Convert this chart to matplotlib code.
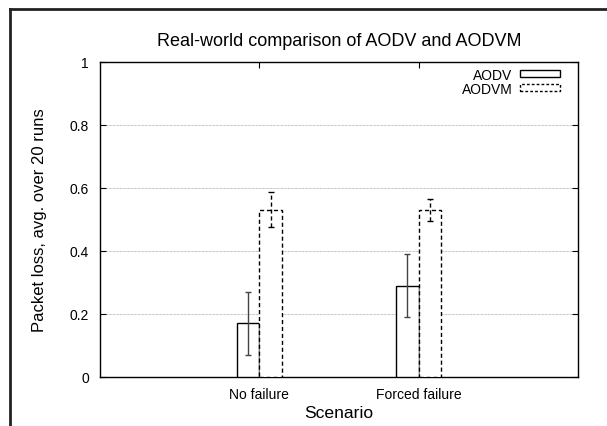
import matplotlib
matplotlib.use("Agg")
import matplotlib.pyplot as plt
from matplotlib.patches import Rectangle
from matplotlib.lines import Line2D
import numpy as np

plt.rcParams['font.family'] = ['Liberation Sans', 'DejaVu Sans']

scenarios = ['No failure', 'Forced failure']
aodv = [0.17, 0.29]
aodv_err = [0.10, 0.10]
aodvm = [0.53, 0.53]
aodvm_err = [0.055, 0.034]

fig = plt.figure(figsize=(6.07, 4.27), dpi=100)
ax = fig.add_axes([100 / 607, 49 / 427, 478 / 607, 315.5 / 427])

x = np.arange(len(scenarios))
w = 0.142

ax.bar(x - w / 2, aodv, w, facecolor='white', edgecolor='black', linewidth=1.0, zorder=3)
ax.bar(x + w / 2, aodvm, w, facecolor='white', edgecolor='black', linewidth=1.0,
       linestyle=(0, (3, 2)), zorder=3)

e1 = ax.errorbar(x - w / 2, aodv, yerr=aodv_err, fmt='none', ecolor='#444444',
                 elinewidth=1.0, capsize=2.5, capthick=1.0, zorder=4)
e2 = ax.errorbar(x + w / 2, aodvm, yerr=aodvm_err, fmt='none', ecolor='black',
                 elinewidth=1.0, capsize=2.5, capthick=1.0, zorder=4)
e2[2][0].set_linestyle((0, (3, 2)))

ax.set_xlim(-1, 2)
ax.set_ylim(0, 1)
ax.set_xticks(x)
ax.set_xticklabels(scenarios, fontsize=10)
ax.set_yticks([0, 0.2, 0.4, 0.6, 0.8, 1])
ax.set_yticklabels(['0', '0.2', '0.4', '0.6', '0.8', '1'], fontsize=10)
ax.tick_params(direction='in', length=4, width=0.8, top=True, right=True, pad=8)
ax.tick_params(axis='x', bottom=False, pad=7)
ax.grid(axis='y', linestyle=(0, (1, 1)), color='#888888', linewidth=0.5, zorder=0)
for s in ax.spines.values():
    s.set_linewidth(1.0)

ax.set_title('Real-world comparison of AODV and AODVM', fontsize=13, pad=12)
ax.set_xlabel('Scenario', fontsize=12.6, labelpad=3)
ax.set_ylabel('Packet loss, avg. over 20 runs', fontsize=12, labelpad=16)

h1 = Rectangle((0, 0), 1, 1, facecolor='white', edgecolor='black', linewidth=1.0)
h2 = Rectangle((0, 0), 1, 1, facecolor='white', edgecolor='black', linewidth=1.0,
               linestyle=(0, (2, 1.5)))
ax.legend([h1, h2], ['AODV', 'AODVM'], loc='upper right', frameon=False,
          markerfirst=False, fontsize=10, handlelength=2.85, handleheight=0.35,
          handletextpad=0.55, labelspacing=0.0, borderaxespad=0.3,
          bbox_to_anchor=(0.982, 1.011))

# outer frame of the original figure (top and left edges)
fig.add_artist(Line2D([10 / 607, 1], [1 - 10 / 427, 1 - 10 / 427],
                      transform=fig.transFigure, color='#222222', linewidth=2))
fig.add_artist(Line2D([10 / 607, 10 / 607], [0, 1 - 10 / 427],
                      transform=fig.transFigure, color='#222222', linewidth=2))

fig.savefig('out.png', dpi=100)
